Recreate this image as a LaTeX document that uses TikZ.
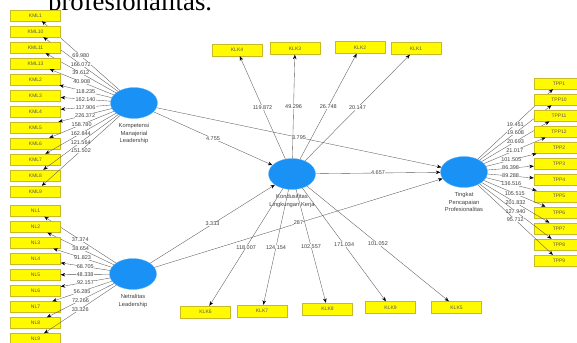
\documentclass[tikz,border=0pt]{standalone}
\usepackage{fontspec}
\setmainfont{Liberation Sans}
\newfontfamily\headfont{Liberation Serif}
\usetikzlibrary{shapes.geometric, arrows.meta, positioning}

\definecolor{latentblue}{RGB}{25,145,245}
\definecolor{itemyellow}{RGB}{255,250,0}
\definecolor{itemedge}{RGB}{200,185,40}

\begin{document}
\begin{tikzpicture}[x=1pt, y=-1pt,
    % Define the styles for the model
    latent/.style={ellipse, fill=latentblue, draw=latentblue!70!white, line width=0.3pt,
        minimum width=47pt, minimum height=31pt, inner sep=0pt},
    latentname/.style={align=center, text=black!75, font=\fontsize{5.8}{7.5}\selectfont, inner sep=0pt},
    item/.style={draw=itemedge, fill=itemyellow, line width=0.4pt, minimum width=50pt,
        minimum height=11pt, inner sep=0pt, text=black!65, font=\fontsize{5}{6}\selectfont},
    link/.style={draw=black!65, line width=0.35pt, -{Stealth[length=4.5pt, width=3.5pt, black]}},
    weight/.style={fill=white, inner sep=0.4pt, text=black!75, font=\fontsize{5.5}{6}\selectfont}
]

\useasboundingbox (0,0) rectangle (577,342);
\clip (0,0) rectangle (577,342);

% Heading line cut by the page
\node[anchor=base west, inner sep=0pt, font=\headfont\fontsize{26.7}{30}\selectfont] (head) at (48,11) {profesionalitas.};

% Define the latent variables
\node[latent] (kml) at (134,103) {};
\node[latent] (nl) at (133,274) {};
\node[latent] (klk) at (292,174) {};
\node[latent] (tpp) at (464,172) {};

% Add the names of the latent variables
\node[latentname, below=4.5pt of kml] (kmlname) {Kompetensi\\Manajerial\\Leadership};
\node[latentname, below=4.5pt of nl] (nlname) {Netralitas\\Leadership};
\node[latentname, below=4.5pt of klk] (klkname) {Kondusifitas\\Lingkungan Kerja};
\node[latentname, below=4.5pt of tpp] (tppname) {Tingkat\\Pencapaian\\Profesionalitas};

% Draw the inner model
\draw[link] (kml) -- node[weight] {4.755} (klk);
\draw[link] (kml) -- node[weight] {3.795} (tpp);
\draw[link] (nl) -- node[weight] {3.333} (klk);
\draw[link] (nl) -- node[weight] {287} (tpp);
\draw[link] (klk) -- node[weight] {4.657} (tpp);

% Indicators of Kompetensi Manajerial Leadership
\foreach \name/\val [count=\i from 0] in {KML1/69.980, KML10/166.072, KML11/39.612,
    KML13/40.908, KML2/118.235, KML3/162.140, KML4/117.906, KML5/226.372,
    KML6/158.780, KML7/162.844, KML8/121.564, KML9/151.502} {
  \node[item] (\name) at (35.5,{15.5+16*\i}) {\name};
  \draw[link] (kml) -- node[weight] {\val} (\name);
}

% Indicators of Netralitas Leadership
\foreach \name/\val [count=\i from 0] in {NL1/37.374, NL2/38.654, NL3/91.823,
    NL4/68.705, NL5/48.338, NL6/92.157, NL7/56.285, NL8/72.266, NL9/33.326} {
  \node[item] (\name) at (35.5,{211+16*\i}) {\name};
  \draw[link] (nl) -- node[weight] {\val} (\name);
}

% Indicators of Kondusifitas Lingkungan Kerja
\foreach \name/\x/\y/\val in {KLK4/237/50/119.872, KLK3/295/48.5/49.296,
    KLK2/360/47.5/26.748, KLK1/416/48.5/20.147, KLK6/205.5/312/118.007,
    KLK7/262/311/124.154, KLK8/327.5/309/102.557, KLK9/390.5/307.5/171.034,
    KLK5/456.5/307.5/101.052} {
  \node[item, minimum height=12pt] (\name) at (\x,\y) {\name};
  \draw[link] (klk) -- node[weight] {\val} (\name);
}

% Indicators of Tingkat Pencapaian Profesionalitas
\foreach \name/\val [count=\i from 0] in {TPP1/19.451, TPP10/19.608, TPP11/20.693,
    TPP12/21.017, TPP2/101.505, TPP3/86.398, TPP4/89.288, TPP5/136.516,
    TPP6/105.515, TPP7/201.832, TPP8/127.940, TPP9/95.712} {
  \node[item] (\name) at (559,{83.5+16.1*\i}) {\name};
  \draw[link] (tpp) -- node[weight] {\val} (\name);
}

\end{tikzpicture}
\end{document}
